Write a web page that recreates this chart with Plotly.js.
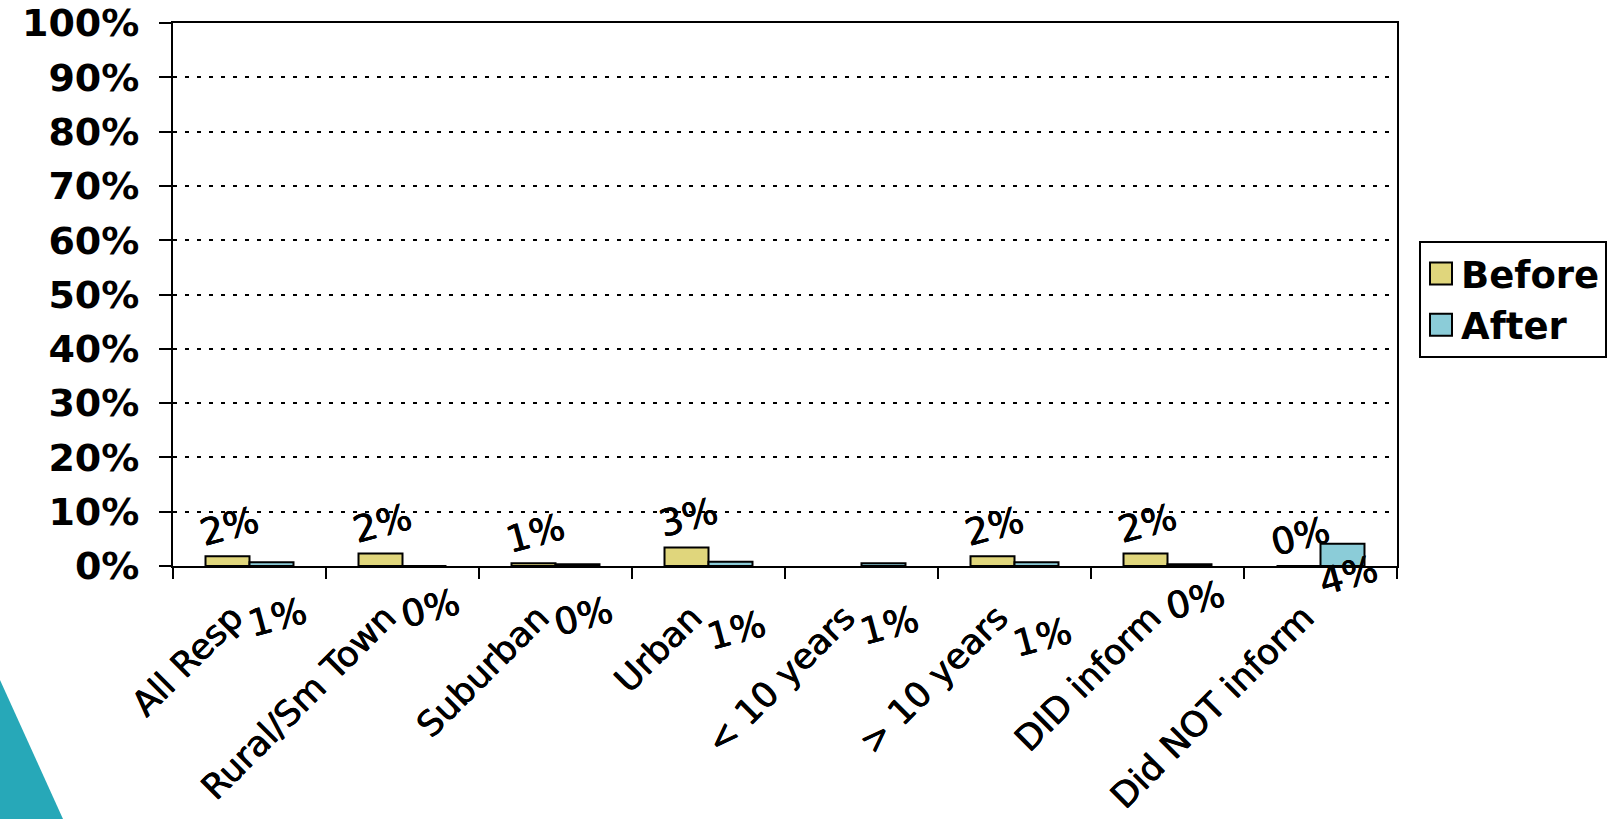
<!DOCTYPE html>
<html>
<head>
<meta charset="utf-8">
<script src="https://cdn.plot.ly/plotly-3.0.1.min.js"></script>
<style>
  html, body { margin: 0; padding: 0; background: #ffffff; }
  #chart { width: 1616px; height: 819px; }
</style>
</head>
<body>
<div id="chart"></div>
<script>
// Respondent groups along the x axis
const categories = ['All Resp', 'Rural/Sm Town', 'Suburban', 'Urban',
                    '< 10 years', '> 10 years', 'DID inform', 'Did NOT inform'];

// Share of respondents (percent), before and after
const beforeValues = [1.8, 2.3, 0.5, 3.4, null, 1.8, 2.3, 0];
const afterValues  = [0.7, 0, 0.3, 0.8, 0.5, 0.7, 0.3, 4.1];

const seriesNames = ['Before', 'After'];

// Y axis ticks
const yTickValues = [0, 10, 20, 30, 40, 50, 60, 70, 80, 90, 100];
const yTickLabels = ['0%', '10%', '20%', '30%', '40%', '50%', '60%', '70%', '80%', '90%', '100%'];

// ---- styling ----
const FONT = 'DejaVu Sans, Verdana, sans-serif';
const HEAVY = '0.5px 0 0 #000, -0.3px 0 0 #000';
const BEFORE_COLOR = '#E0D67C';
const AFTER_COLOR = '#8BCCD8';
const M = { l: 173, r: 219, t: 23, b: 253 };
const W = 1616, H = 819;
const plotW = W - M.l - M.r;
const plotH = H - M.t - M.b;
const BARGAP = 0.425;
// half of one bar's width in pixels: offset from the category centre
const barShift = (plotW / categories.length) * (1 - BARGAP) / 4;
// slanted category names end a little left of their slot centre
const LABEL_NUDGE = 0.11;

// After-value labels sit below the axis; pixel drop for each one
const afterLabelDrop = [51, 42, 50, 64, 59, 71, 34, 9];
const beforeLabelLift = 30;

const pct = v => Math.round(v) + '%';
const slot = categories.map((_, i) => i);

const traces = [
  {
    type: 'bar', name: seriesNames[0], x: slot, y: beforeValues,
    legendgroup: 'b', customdata: categories,
    marker: { color: BEFORE_COLOR, line: { color: '#000000', width: 2 } },
    hovertemplate: '%{customdata}: %{y}%<extra>Before</extra>'
  },
  {
    type: 'bar', name: seriesNames[1], x: slot, y: afterValues,
    legendgroup: 'a', customdata: categories,
    marker: { color: AFTER_COLOR, line: { color: '#000000', width: 2 } },
    hovertemplate: '%{customdata}: %{y}%<extra>After</extra>'
  }
];

const labelFont = { family: FONT, size: 37, color: '#000000', shadow: HEAVY };
const annotations = [];
beforeValues.forEach((v, i) => {
  if (v === null) return;
  annotations.push({
    x: slot[i], y: v, xref: 'x', yref: 'y',
    xshift: -barShift + 2, yshift: beforeLabelLift,
    text: pct(v), showarrow: false, textangle: -15, font: labelFont
  });
});
afterValues.forEach((v, i) => {
  if (v === null) return;
  annotations.push({
    x: slot[i], y: 0, xref: 'x', yref: 'y',
    xshift: barShift + 6, yshift: -afterLabelDrop[i],
    text: pct(v), showarrow: false, textangle: -15, font: labelFont
  });
});

// paper coordinates from page pixels
const px = x => (x - M.l) / plotW;
const py = y => (H - M.b - y) / plotH;

const layout = {
  width: W, height: H,
  margin: M,
  paper_bgcolor: '#ffffff',
  plot_bgcolor: '#ffffff',
  barmode: 'group',
  bargap: BARGAP,
  bargroupgap: 0,
  showlegend: true,
  legend: {
    xref: 'container', yref: 'container',
    x: 1419 / W, y: 1 - 241 / H, xanchor: 'left', yanchor: 'top',
    bgcolor: '#ffffff', bordercolor: '#000000', borderwidth: 2,
    font: { family: FONT, size: 37, color: '#000000', weight: 'bold' },
    traceorder: 'grouped', tracegroupgap: 0
  },
  xaxis: {
    type: 'linear',
    range: [-0.5, categories.length - 0.5],
    tickmode: 'array',
    tickvals: slot.map(i => i - LABEL_NUDGE),
    ticktext: categories,
    ticks: '',
    minor: {
      tickmode: 'linear', tick0: -0.5, dtick: 1,
      ticks: 'outside', ticklen: 11, tickwidth: 2, tickcolor: '#000000',
      showgrid: false
    },
    showline: true, linewidth: 2, linecolor: '#000000', mirror: true,
    showgrid: false, zeroline: false,
    tickangle: -45,
    tickfont: { family: FONT, size: 35, color: '#000000', shadow: HEAVY },
    ticklabelstandoff: 15
  },
  yaxis: {
    range: [0, 100],
    tickvals: yTickValues, ticktext: yTickLabels,
    ticks: 'outside', ticklen: 12, tickwidth: 2, tickcolor: '#000000',
    showline: true, linewidth: 2, linecolor: '#000000', mirror: true,
    showgrid: true, gridcolor: '#000000', gridwidth: 2, griddash: '4px,8px',
    zeroline: false,
    tickfont: { family: FONT, size: 38, color: '#000000', weight: 'bold' },
    ticklabelstandoff: 12
  },
  annotations: annotations,
  shapes: [
    {
      type: 'path', xref: 'paper', yref: 'paper', layer: 'below',
      path: `M ${px(0)},${py(680)} L ${px(0)},${py(819)} L ${px(63)},${py(819)} Z`,
      fillcolor: '#27A8B8', line: { width: 0 }
    }
  ]
};

Plotly.newPlot('chart', traces, layout, { displayModeBar: false, staticPlot: true })
  .then(gd => {
    // larger legend swatches
    gd.querySelectorAll('.legend .legendpoints path').forEach(p => {
      p.setAttribute('d', 'M11,11H-11V-11H11Z');
    });
  });
</script>
</body>
</html>
